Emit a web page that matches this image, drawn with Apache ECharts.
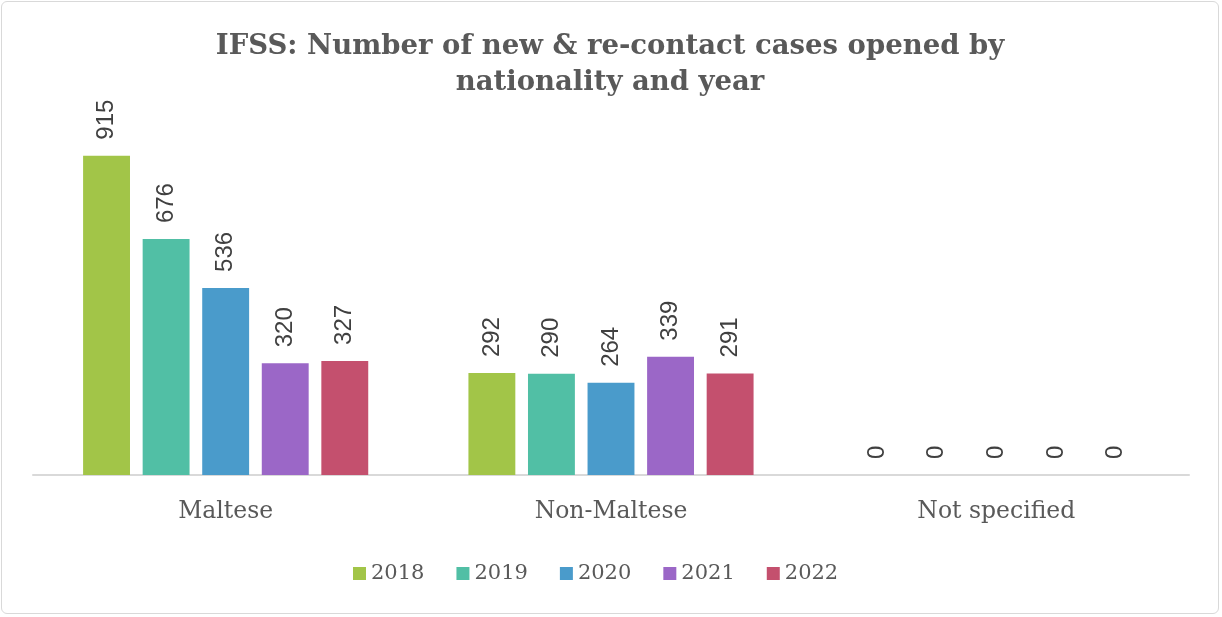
<!DOCTYPE html>
<html>
<head>
<meta charset="utf-8">
<script src="https://cdn.jsdelivr.net/npm/echarts@6/dist/echarts.min.js"></script>
<style>
  html, body { margin: 0; padding: 0; background: #fff; }
  #chart { position: absolute; left: 1px; top: 1px; width: 1218px; height: 613px;
           border: 1px solid #d9d9d9; border-radius: 6px; box-sizing: border-box; }
</style>
</head>
<body>
<div id="chart"></div>
<script>
const categories = ['Maltese', 'Non-Maltese', 'Not specified']
const years = ['2018', '2019', '2020', '2021', '2022']
const values2018 = [915, 292, 0]
const values2019 = [676, 290, 0]
const values2020 = [536, 264, 0]
const values2021 = [320, 339, 0]
const values2022 = [327, 291, 0]
const colors = ['#a2c548', '#51bfa5', '#4a9bcb', '#9b67c7', '#c4506e']

const chart = echarts.init(document.getElementById('chart'))
const textColor = '#595959'
const serif = '"DejaVu Serif", serif'

const allValues = [values2018, values2019, values2020, values2021, values2022]
const series = years.map((name, i) => ({
  name: name,
  type: 'bar',
  data: allValues[i],
  barGap: '27%',
  barCategoryGap: '26%',
  itemStyle: { color: colors[i] },
  label: {
    show: true,
    position: 'top',
    rotate: 90,
    align: 'left',
    verticalAlign: 'middle',
    distance: 16,
    color: '#404040',
    fontFamily: '"Liberation Sans", Arial, sans-serif',
    fontSize: 24
  }
}))

chart.setOption({
  animation: false,
  title: {
    text: 'IFSS: Number of new & re-contact cases opened by\nnationality and year',
    left: 'center',
    top: 22,
    textStyle: {
      color: textColor,
      fontFamily: serif,
      fontWeight: 'bold',
      fontSize: 27.5,
      lineHeight: 36
    }
  },
  legend: {
    data: years,
    bottom: 24,
    left: 346,
    itemWidth: 13,
    itemHeight: 13,
    itemGap: 32,
    icon: 'rect',
    textStyle: { color: textColor, fontFamily: serif, fontSize: 21 }
  },
  grid: {
    left: 31,
    right: 29,
    top: 124,
    bottom: 138,
    containLabel: false
  },
  xAxis: {
    type: 'category',
    data: categories,
    axisLine: { lineStyle: { color: '#d9d9d9', width: 2 } },
    axisTick: { show: false },
    axisLabel: { color: textColor, fontFamily: serif, fontSize: 23.5, margin: 25 }
  },
  yAxis: {
    type: 'value',
    min: 0,
    max: 1000,
    show: false
  },
  series: series
})
</script>
</body>
</html>
